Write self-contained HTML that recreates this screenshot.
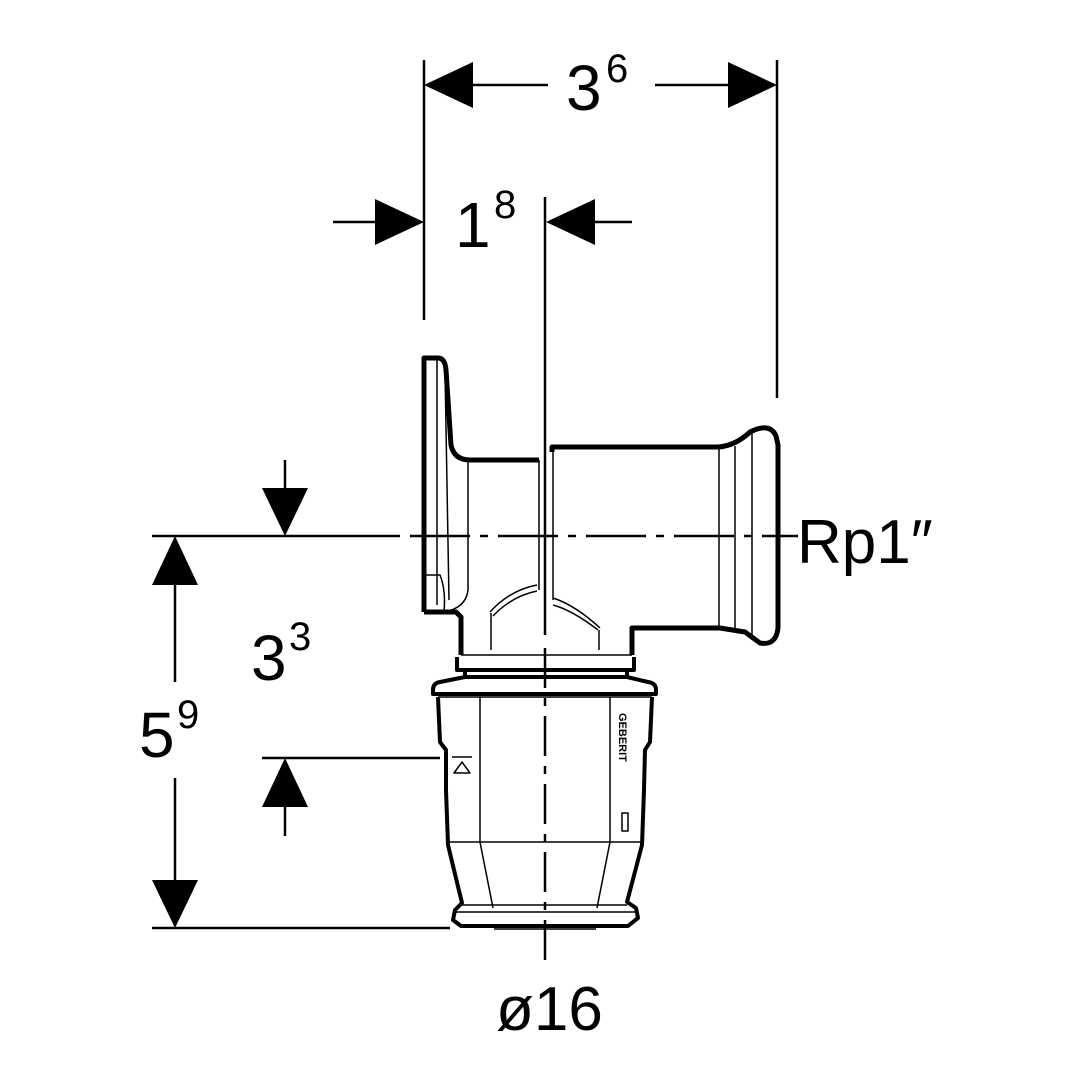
<!DOCTYPE html>
<html><head><meta charset="utf-8"><style>
html,body{margin:0;padding:0;background:#fff}
svg{display:block}
text{font-family:"Liberation Sans",sans-serif;fill:#000}
</style></head><body>
<svg width="1080" height="1080" viewBox="0 0 1080 1080" xmlns="http://www.w3.org/2000/svg">
<g stroke="#000" stroke-width="2.5" fill="none">
  <line x1="424" y1="60" x2="424" y2="320"/>
  <line x1="777" y1="60" x2="777" y2="398"/>
  <line x1="470" y1="85" x2="548" y2="85"/>
  <line x1="655" y1="85" x2="730" y2="85"/>
  <line x1="333" y1="222" x2="378" y2="222"/>
  <line x1="592" y1="222" x2="632" y2="222"/>
  <line x1="545" y1="197" x2="545" y2="635"/>
  <line x1="545" y1="648" x2="545" y2="960" stroke-dasharray="40,10,8,10"/>
  <line x1="152" y1="536" x2="400" y2="536"/>
  <line x1="410" y1="536" x2="798" y2="536" stroke-dasharray="60,10,8,10"/>
  <line x1="285" y1="460" x2="285" y2="492"/>
  <line x1="175" y1="582" x2="175" y2="682"/>
  <line x1="175" y1="778" x2="175" y2="882"/>
  <line x1="152" y1="928" x2="450" y2="928"/>
  <line x1="285" y1="805" x2="285" y2="836"/>
  <line x1="262" y1="758" x2="440" y2="758"/>
</g>
<g fill="#000">
  <polygon points="424,85 473,62 473,108"/>
  <polygon points="777,85 728,62 728,108"/>
  <polygon points="424,222 375,199 375,245"/>
  <polygon points="546,222 595,199 595,245"/>
  <polygon points="285,536 262,488 308,488"/>
  <polygon points="175,536 152,585 198,585"/>
  <polygon points="175,928 152,880 198,880"/>
  <polygon points="285,758 262,807 308,807"/>
</g>
<g stroke="#000" fill="none" stroke-linejoin="round">
  <path stroke-width="5" d="M424,612 L424,358 L438,358 Q445,358 446,370 L451,445 Q454,460 470,460 L539,460"/>
  <path stroke-width="5" d="M424,612 L456,612 L461,617 L461,655"/>
  <path stroke-width="5" d="M552,452 L552,447 L718,447 Q735,446 750,432 Q770,422 776,436 L778,445 L778,628 Q776,646 760,643 L745,632 L720,628 L632,628 L632,655"/>
  <g stroke-width="1.5">
    <line x1="437" y1="360" x2="437" y2="605"/>
    <line x1="445" y1="370" x2="449" y2="600"/>
    <path d="M468,462 L468,590 Q466,608 444,612"/>
    <path d="M424,575 L440,575 Q446,590 444,612"/>
    <line x1="539" y1="460" x2="539" y2="590"/>
    <line x1="553" y1="452" x2="553" y2="600"/>
    <line x1="719" y1="448" x2="719" y2="627"/>
    <line x1="735" y1="446" x2="735" y2="630"/>
    <line x1="752" y1="433" x2="752" y2="640"/>
    <path d="M490,612 Q510,590 537,585"/>
    <path d="M493,616 Q512,596 537,591"/>
    <path d="M553,598 Q575,605 600,628"/>
    <path d="M553,605 Q572,610 598,630"/>
    <line x1="491" y1="613" x2="491" y2="650"/>
    <line x1="599" y1="630" x2="599" y2="650"/>
    <line x1="461" y1="655" x2="632" y2="655"/>
  </g>
  <path stroke-width="4" d="M457,657 L457,670 L634,670 L634,657"/>
  <path stroke-width="4" d="M465,672 L465,677 L627,677 L627,672"/>
  <path stroke-width="4" d="M465,677 L440,682 Q433,683 433,690 L433,694 L656,694 L656,690 Q656,683 648,682 L627,677"/>
  <path stroke-width="4" d="M438,697 L440,742 L446,750 L446,790 L448,845 L462,903 L455,910 L453,920 L461,926 L628,926 L638,918 L636,908 L627,902 L642,845 L644,790 L645,750 L650,742 L652,697"/>
  <g stroke-width="1.5">
    <line x1="438" y1="697" x2="652" y2="697"/>
    <line x1="480" y1="697" x2="480" y2="842"/>
    <line x1="610" y1="697" x2="610" y2="842"/>
    <line x1="448" y1="842" x2="642" y2="842"/>
    <line x1="480" y1="842" x2="493" y2="908"/>
    <line x1="610" y1="842" x2="597" y2="908"/>
    <line x1="462" y1="905" x2="627" y2="905"/>
    <line x1="455" y1="912" x2="636" y2="912"/>
    <line x1="494" y1="929" x2="596" y2="929"/>
    <line x1="452" y1="757" x2="472" y2="757"/>
    <polygon points="454,773 470,773 462,762"/>
    <rect x="622" y="813" width="6" height="18"/>
  </g>
</g>
<text x="619" y="713" font-size="11" font-weight="bold" transform="rotate(90 619 713)">GEBERIT</text>
<text x="566" y="110" font-size="64">3</text><text x="606" y="82" font-size="40">6</text>
<text x="455" y="247" font-size="64">1</text><text x="494" y="218" font-size="40">8</text>
<text x="251" y="680" font-size="64">3</text><text x="289" y="650" font-size="40">3</text>
<text x="139" y="757" font-size="64">5</text><text x="177" y="728" font-size="40">9</text>
<text x="797" y="563" font-size="62">Rp1″</text>
<text x="496" y="1030" font-size="62">ø16</text>
</svg>
</body></html>
